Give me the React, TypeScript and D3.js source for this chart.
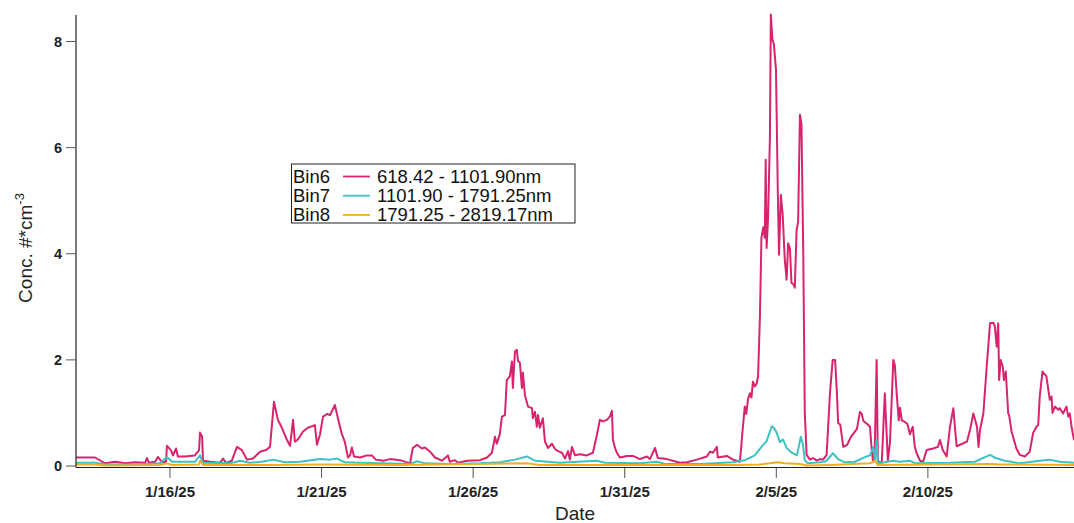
import React from "react";
import * as d3 from "d3";

// Time is stored as fractional days after 2025-01-16 00:00
const baseDate = new Date(2025, 0, 16, 0, 0);
const domainDays = [-3.1, 29.82];

const bin6Day = [-3.10,-2.47,-2.14,-1.81,-1.48,-1.15,-0.82,-0.76,-0.69,-0.49,-0.40,-0.26,-0.13,-0.10,0.03,0.10,0.20,0.26,0.49,0.82,0.96,0.99,1.06,1.09,1.32,1.65,1.75,1.85,2.04,2.21,2.37,2.54,2.74,2.97,3.17,3.30,3.43,3.56,3.69,3.86,3.96,4.06,4.12,4.22,4.39,4.55,4.78,4.85,4.95,5.05,5.18,5.28,5.44,5.54,5.67,5.77,5.87,5.94,6.00,6.07,6.27,6.50,6.66,6.79,7.03,7.26,7.59,
7.92,8.01,8.15,8.31,8.41,8.58,8.74,8.97,9.17,9.23,9.40,9.50,9.80,10.22,10.46,10.62,10.72,10.78,10.88,10.95,11.05,11.11,11.21,11.28,11.31,11.38,11.44,11.48,11.54,11.61,11.64,11.71,11.81,11.94,11.97,12.04,12.10,12.14,12.20,12.30,12.37,12.47,12.60,12.70,12.80,12.93,13.03,13.13,13.19,13.26,13.36,13.52,13.75,13.95,14.08,14.18,14.28,14.41,14.51,14.58,14.61,14.68,14.74,14.84,15.07,15.27,15.50,15.73,15.83,16.00,16.09,16.39,16.82,17.05,17.38,17.71,17.81,17.91,18.04,18.07,18.37,18.57,18.80,
18.89,18.96,19.01,19.07,19.13,19.18,19.23,19.29,19.35,19.40,19.46,19.51,19.57,19.62,19.65,19.68,19.73,19.79,19.82,19.87,19.92,19.99,20.05,20.09,20.15,20.21,20.28,20.34,20.39,20.45,20.50,20.56,20.61,20.67,20.72,20.78,20.83,20.89,20.94,21.00,21.11,21.21,21.34,21.44,21.54,21.66,21.77,21.86,21.94,22.00,22.04,22.11,22.21,22.34,22.46,22.66,22.76,22.82,22.87,22.98,23.09,23.14,23.19,23.25,23.31,23.35,23.48,23.58,23.64,23.68,23.75,23.86,23.91,23.97,24.04,24.08,24.14,24.24,24.32,24.41,24.50,24.57,24.63,24.74,24.84,24.96,25.17,25.33,25.40,25.49,25.62,25.73,25.84,25.90,25.95,26.06,26.29,26.39,26.50,26.62,26.67,26.72,26.83,26.94,27.05,27.16,27.21,27.27,27.32,27.35,27.40,27.47,27.51,27.57,27.65,27.68,27.76,27.92,28.03,28.20,28.36,28.47,28.58,28.64,28.69,28.78,28.91,29.02,29.08,29.11,29.19,29.30,29.35,29.46,29.57,29.63,29.68,29.74,29.82];
const bin6Value = [0.16,0.16,0.05,0.08,0.05,0.07,0.06,0.15,0.06,0.08,0.17,0.07,0.08,0.38,0.30,0.20,0.33,0.18,0.18,0.20,0.30,0.63,0.55,0.10,0.08,0.06,0.14,0.06,0.10,0.36,0.30,0.12,0.14,0.27,0.30,0.36,1.21,0.87,0.72,0.49,0.38,0.87,0.46,0.50,0.65,0.72,0.77,0.40,0.60,0.93,0.98,0.96,1.15,0.90,0.60,0.45,0.16,0.20,0.35,0.18,0.16,0.20,0.20,0.12,0.10,0.13,0.11,
0.05,0.34,0.40,0.33,0.35,0.27,0.16,0.10,0.20,0.08,0.11,0.06,0.10,0.11,0.16,0.25,0.55,0.42,0.60,0.93,0.96,1.62,1.69,1.97,1.47,2.16,2.19,1.98,1.95,1.47,1.76,1.33,1.12,1.09,0.90,1.02,0.74,0.96,0.72,0.90,0.46,0.34,0.42,0.32,0.28,0.25,0.14,0.28,0.12,0.36,0.20,0.22,0.20,0.25,0.58,0.87,0.84,0.87,0.93,1.04,0.50,0.34,0.25,0.16,0.19,0.19,0.13,0.18,0.13,0.34,0.15,0.13,0.06,0.07,0.12,0.18,0.27,0.25,0.36,0.16,0.19,0.12,0.08,
0.68,1.12,0.98,1.27,1.37,1.29,1.59,1.50,1.55,1.70,2.82,4.30,4.50,4.30,5.77,4.11,4.70,6.21,8.51,8.04,7.95,7.47,5.15,3.98,5.11,4.75,3.89,3.51,4.20,4.10,3.45,3.43,3.36,4.45,4.60,6.62,6.45,4.00,1.00,0.21,0.12,0.15,0.10,0.13,0.12,0.21,1.37,2.00,2.00,1.37,0.81,0.78,0.36,0.40,0.55,0.70,1.02,0.98,0.85,0.80,0.74,0.36,0.08,0.36,2.00,0.08,0.06,1.37,0.60,0.10,0.45,2.00,1.90,1.37,0.86,1.10,0.86,0.83,0.80,0.60,0.74,0.36,0.24,0.10,0.08,0.30,0.33,0.36,0.49,0.30,0.18,0.74,1.09,0.68,0.37,0.40,0.46,0.68,0.99,0.74,0.36,0.68,0.99,1.87,2.69,2.70,2.63,2.25,2.69,1.62,2.00,1.87,1.62,1.78,0.99,0.96,0.65,0.33,0.21,0.18,0.27,0.62,0.74,0.77,1.31,1.78,1.69,1.25,1.31,1.00,1.12,1.06,1.09,0.99,1.12,0.93,0.99,0.74,0.49];

const bin7Day = [-3.10,-2.47,-2.14,-0.99,-0.33,-0.10,0.07,0.82,0.99,1.09,1.98,2.31,2.64,3.03,3.40,3.79,4.29,4.95,5.28,5.51,5.77,6.27,6.93,7.92,8.15,8.41,9.23,10.22,10.88,11.38,11.77,12.04,12.86,14.08,14.35,15.50,16.06,16.32,17.48,18.57,18.96,19.29,19.51,19.68,19.85,19.92,20.01,20.12,20.22,20.34,20.51,20.68,20.81,20.88,20.94,21.04,21.44,21.64,21.87,22.04,22.26,22.59,22.98,23.09,23.20,23.25,23.31,23.35,23.58,23.85,24.08,24.41,24.57,25.73,26.55,27.05,27.24,27.54,28.03,28.69,29.02,29.35,29.82];
const bin7Value = [0.06,0.06,0.03,0.03,0.05,0.17,0.08,0.08,0.20,0.06,0.05,0.10,0.06,0.08,0.12,0.07,0.08,0.13,0.12,0.14,0.07,0.06,0.05,0.04,0.09,0.05,0.04,0.05,0.07,0.12,0.18,0.10,0.06,0.10,0.06,0.05,0.08,0.04,0.04,0.07,0.11,0.20,0.36,0.47,0.75,0.72,0.63,0.45,0.50,0.34,0.25,0.20,0.55,0.40,0.11,0.05,0.07,0.09,0.24,0.13,0.07,0.08,0.18,0.20,0.36,0.10,0.50,0.05,0.07,0.10,0.08,0.10,0.05,0.06,0.08,0.21,0.15,0.10,0.05,0.10,0.12,0.08,0.06];

const bin8Day = [-3.10,-2.47,-2.14,-0.33,-0.10,0.07,0.96,0.99,1.09,3.30,4.95,7.59,11.77,12.20,17.48,18.80,19.46,20.05,20.28,20.78,20.98,21.77,23.09,23.25,23.35,27.05,27.37,29.82];
const bin8Value = [0.03,0.03,0.01,0.02,0.05,0.02,0.03,0.10,0.02,0.02,0.03,0.02,0.05,0.02,0.02,0.02,0.03,0.07,0.05,0.04,0.01,0.02,0.05,0.10,0.02,0.04,0.03,0.02];

const yTicks = [0, 2, 4, 6, 8];
const xTickDates = ["2025-01-16", "2025-01-21", "2025-01-26", "2025-01-31", "2025-02-05", "2025-02-10"];

const seriesNames = ["Bin6", "Bin7", "Bin8"];
const seriesRanges = ["618.42 - 1101.90nm", "1101.90 - 1791.25nm", "1791.25 - 2819.17nm"];
const seriesColors = ["#d6246e", "#3cc2c4", "#f2ad22"];

const W = 1074, H = 523;
const left = 76, right = 1074, top = 15, bottom = 466;
const FONT = "'Liberation Sans', Arial, Helvetica, sans-serif";

function dayToDate(d: number) {
  return new Date(baseDate.getTime() + d * 86400000);
}

export default function App() {
  const x = d3.scaleTime()
    .domain([dayToDate(domainDays[0]), dayToDate(domainDays[1])])
    .range([left, right]);
  const y = d3.scaleLinear().domain([0, 8.5]).range([bottom, top]);
  const line = d3.line<[Date, number]>().x(p => x(p[0])).y(p => y(p[1]));
  const fmt = d3.timeFormat("%-m/%-d/%y");

  const series = [
    bin6Day.map((d, i) => [dayToDate(d), bin6Value[i]] as [Date, number]),
    bin7Day.map((d, i) => [dayToDate(d), bin7Value[i]] as [Date, number]),
    bin8Day.map((d, i) => [dayToDate(d), bin8Value[i]] as [Date, number]),
  ];

  const legX = 291.5, legY = 164, legW = 283.5, legH = 59, rowH = 19.2;

  return (
    <svg width={W} height={H} style={{ position: "absolute", left: 0, top: 0, background: "#fff" }} fontFamily={FONT}>
      <rect x={0} y={0} width={W} height={H} fill="#fff" />
      <defs>
        <clipPath id="plot">
          <rect x={left} y={top - 2} width={right - left} height={bottom - top + 4} />
        </clipPath>
      </defs>
      <g clipPath="url(#plot)">
        {series.map((s, i) => (
          <path key={i} d={line(s) || ""} fill="none" stroke={seriesColors[i]} strokeWidth={2} strokeLinejoin="round" />
        ))}
      </g>
      {/* axes */}
      <line x1={left} x2={left} y1={top} y2={bottom + 1.5} stroke="#222" strokeWidth={1.2} />
      <line x1={left} x2={right} y1={bottom + 1.5} y2={bottom + 1.5} stroke="#222" strokeWidth={1.2} />
      {yTicks.map(t => (
        <g key={t}>
          <line x1={left - 10} x2={left} y1={y(t)} y2={y(t)} stroke="#555" strokeWidth={1} />
          <text x={left - 14} y={y(t)} dy="0.35em" textAnchor="end" fontSize={14.5} fontWeight="bold" fill="#222">{t}</text>
        </g>
      ))}
      {xTickDates.map(s => {
        const dt = d3.timeParse("%Y-%m-%d")(s)!;
        const xx = x(dt);
        return (
          <g key={s}>
            <line x1={xx} x2={xx} y1={bottom + 2} y2={bottom + 12} stroke="#555" strokeWidth={1} />
            <text x={xx} y={497} textAnchor="middle" fontSize={15} fontWeight="bold" fill="#222">{fmt(dt)}</text>
          </g>
        );
      })}
      <text transform={`translate(32, 248) rotate(-90)`} textAnchor="middle" fontSize={19} fill="#222">
        Conc. #*cm<tspan dy="-8" fontSize={13}>-3</tspan>
      </text>
      <text x={(left + right) / 2} y={520} textAnchor="middle" fontSize={19} fill="#222">Date</text>
      {/* legend */}
      <rect x={legX} y={legY} width={legW} height={legH} fill="#fff" stroke="#222" strokeWidth={1} />
      {seriesNames.map((n, i) => {
        const cy = legY + 12.5 + i * rowH;
        return (
          <g key={n}>
            <text x={legX + 1.5} y={cy} dy="0.35em" fontSize={18.5} fill="#111">{n}</text>
            <line x1={343} x2={370} y1={cy} y2={cy} stroke={seriesColors[i]} strokeWidth={1.8} />
            <text x={377} y={cy} dy="0.35em" fontSize={18.5} fill="#111">{seriesRanges[i]}</text>
          </g>
        );
      })}
    </svg>
  );
}
